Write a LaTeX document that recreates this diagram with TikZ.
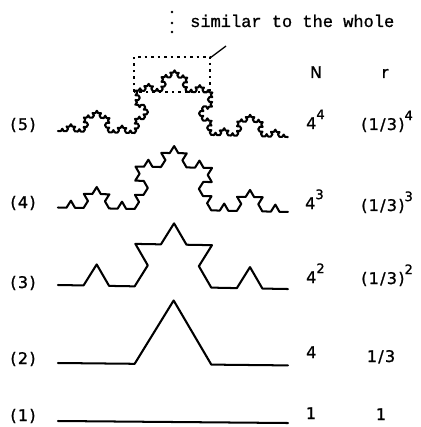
\documentclass[tikz,border=0pt]{standalone}
\usepackage{fontspec}
\newfontfamily\lblfont{DejaVu Sans}[FakeBold=1.2, LetterSpace=8]
\newfontfamily\monof{Liberation Mono}[FakeBold=1]
\usetikzlibrary{decorations.fractals}
\newcommand\upidx[1]{\raisebox{0.62em}{\fontsize{13}{15}\selectfont #1}}
\begin{document}
\begin{tikzpicture}[x=1pt,y=-1pt,
  lbl/.style={font=\lblfont\fontsize{16}{19}\selectfont, inner sep=0pt, anchor=base},
  lblw/.style={lbl, anchor=base west},
  koch/.style={line width=2.1pt, line join=round, line cap=round, decoration=Koch snowflake},
  boxline/.style={line width=1.5pt, dash pattern=on 2.5pt off 4pt}]
\useasboundingbox (0,0) rectangle (420,427);
\fill[white] (0,0) rectangle (420,427);
% curves
\begin{scope}[transform canvas={shift={(58,421)}, rotate=-0.5, yscale=0.96}]
  \draw[koch] (0,0) -- (230,0);
\end{scope}
\begin{scope}[transform canvas={shift={(58,363)}, rotate=-0.6, yscale=0.96}]
  \draw[koch] decorate{(0,0) -- (230,0)};
\end{scope}
\begin{scope}[transform canvas={shift={(58,285)}, rotate=-1.0, yscale=0.96}]
  \draw[koch] decorate{decorate{(0,0) -- (230,0)}};
\end{scope}
\begin{scope}[transform canvas={shift={(58,207.5)}, rotate=-1.1, yscale=0.96}]
  \draw[koch] decorate{decorate{decorate{(0,0) -- (230,0)}}};
\end{scope}
\begin{scope}[transform canvas={shift={(58,131)}, rotate=-1.5, yscale=0.96}]
  \draw[koch] decorate{decorate{decorate{decorate{(0,0) -- (230,0)}}}};
\end{scope}
% dashed box
\draw[boxline] (134,92) rectangle (210,57);
\coordinate (rtr) at (210,58);
\coordinate (lead) at (226,46);
\draw[line width=1.3pt] (rtr) -- (lead);
% legend dots
\fill (172,12) circle (1.3);
\fill (172,23) circle (1.3);
\fill (172,32) circle (1.3);
\node[inner sep=0pt, anchor=base west, font=\monof\fontsize{17}{20}\selectfont] (sim) at (190,27) {similar to the whole};
% row labels
\node[lbl] (l5) at (23,130) {(5)};
\node[lbl] (l4) at (23,208) {(4)};
\node[lbl] (l3) at (23,288) {(3)};
\node[lbl] (l2) at (23,364) {(2)};
\node[lbl] (l1) at (23,421) {(1)};
% headers
\node[lbl] (hN) at (316,78) {N};
\node[lbl] (hr) at (385,78) {r};
% N column
\node[lblw] (n5) at (306,129) {4\upidx{4}};
\node[lblw] (n4) at (305,209) {4\upidx{3}};
\node[lblw] (n3) at (306,283) {4\upidx{2}};
\node[lblw] (n2) at (306,358) {4};
\node[lbl] (n1) at (311,419) {1};
% r column
\node[lblw] (r5) at (361,130) {(1/3)\upidx{4}};
\node[lblw] (r4) at (361,211) {(1/3)\upidx{3}};
\node[lblw] (r3) at (361,284) {(1/3)\upidx{2}};
\node[lbl] (r2) at (381,362) {1/3};
\node[lbl] (r1) at (381,420) {1};
\end{tikzpicture}
\end{document}
